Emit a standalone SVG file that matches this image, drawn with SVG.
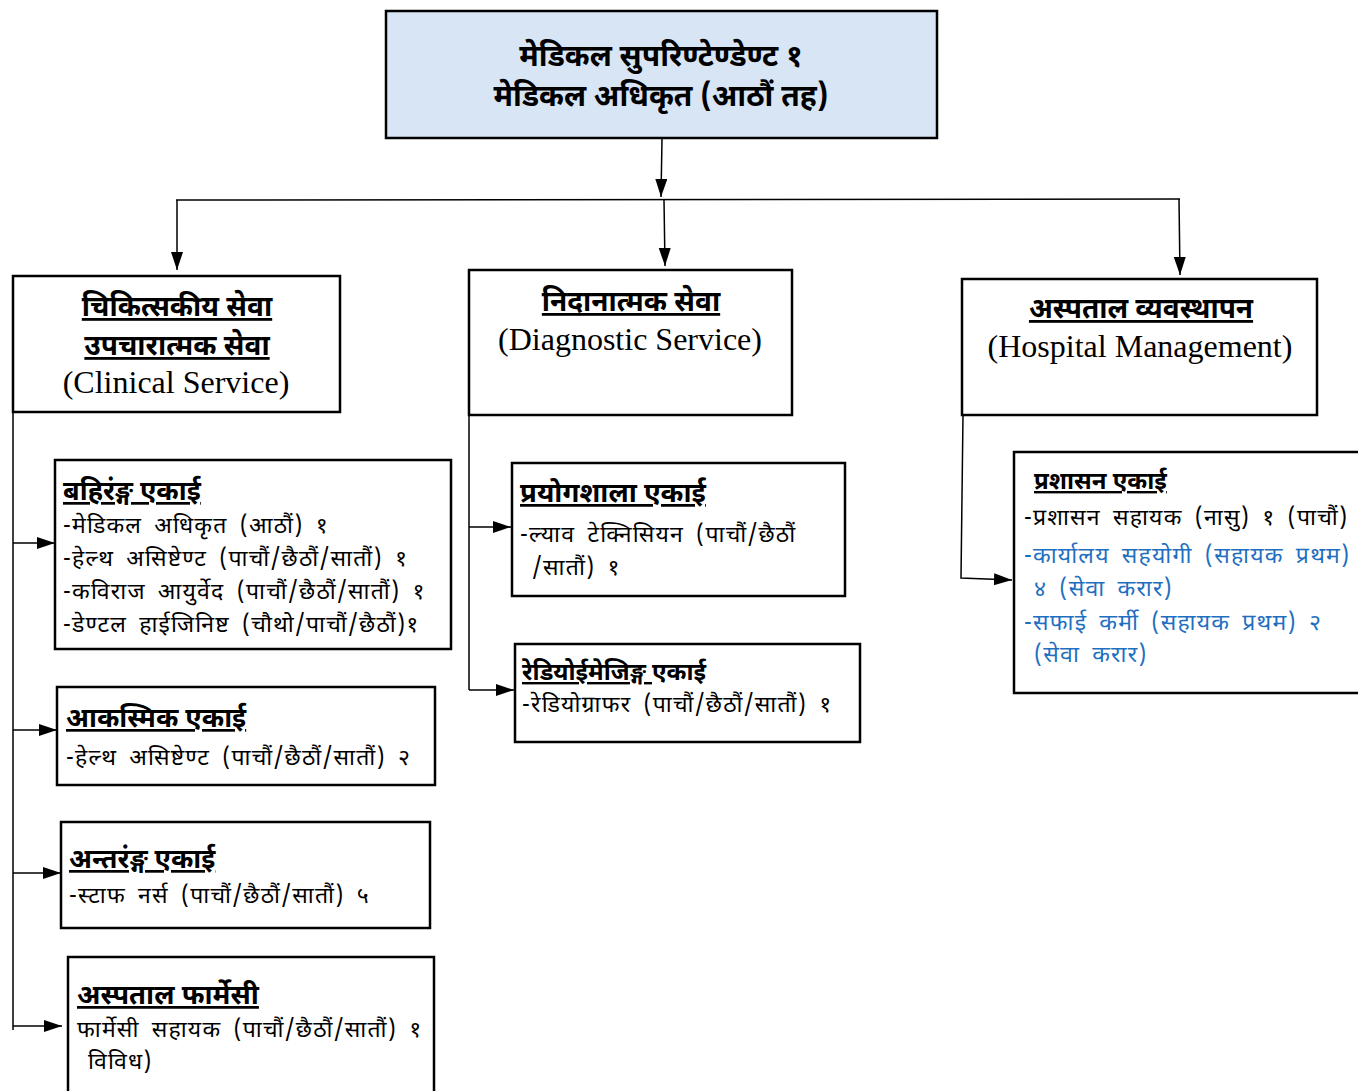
<svg xmlns="http://www.w3.org/2000/svg" width="1358" height="1091" viewBox="0 0 1358 1091">
<style>
.box{fill:#fff;stroke:#000;stroke-width:2.5}
.top{fill:#d7e5f5;stroke:#000;stroke-width:2.5}
.h{font-family:"Noto Sans Devanagari","Lohit Devanagari","Noto Sans",sans-serif;font-weight:bold;fill:#000}
.t{font-family:"Noto Sans Devanagari","Lohit Devanagari","Noto Sans",sans-serif;font-size:23px;letter-spacing:1.2px;word-spacing:5px;fill:#000}
.en{font-family:"Liberation Serif",serif;font-size:32px;fill:#000}
.u{text-decoration:underline}
.blue{fill:#1f6fc0}
.c{fill:none;stroke:#000;stroke-width:1.5}
</style>
<defs>
<marker id="av" markerWidth="20" markerHeight="20" refX="18" refY="6" orient="auto" markerUnits="userSpaceOnUse">
<path d="M0,0 L18,6 L0,12 z" fill="#000"/>
</marker>
</defs>

<g id="connectors">
<line class="c" x1="662" y1="139" x2="661" y2="197" marker-end="url(#av)"/>
<line class="c" x1="176" y1="200" x2="1180" y2="199"/>
<line class="c" x1="177" y1="200" x2="177" y2="270" marker-end="url(#av)"/>
<line class="c" x1="664" y1="200" x2="665" y2="266" marker-end="url(#av)"/>
<line class="c" x1="1179" y1="199" x2="1180" y2="275" marker-end="url(#av)"/>
<line class="c" x1="13" y1="412" x2="13" y2="1030"/>
<line class="c" x1="13" y1="543" x2="55" y2="543" marker-end="url(#av)"/>
<line class="c" x1="13" y1="730" x2="57" y2="730" marker-end="url(#av)"/>
<line class="c" x1="13" y1="873" x2="61" y2="873" marker-end="url(#av)"/>
<line class="c" x1="13" y1="1026" x2="62" y2="1026" marker-end="url(#av)"/>
<line class="c" x1="469" y1="415" x2="469" y2="690"/>
<line class="c" x1="469" y1="527" x2="511" y2="527" marker-end="url(#av)"/>
<line class="c" x1="469" y1="690" x2="514" y2="690" marker-end="url(#av)"/>
<polyline class="c" points="963,415 961,578 1012,580" marker-end="url(#av)"/>
</g>

<g id="n-top">
<rect class="top" x="386" y="11" width="551" height="127"/>
<text class="h" x="661" y="66" font-size="30" text-anchor="middle">मेडिकल सुपरिण्टेण्डेण्ट १</text>
<text class="h" x="661" y="106" font-size="30" text-anchor="middle">मेडिकल अधिकृत (आठौं तह)</text>
</g>

<g id="n-clinical">
<rect class="box" x="13" y="276" width="327" height="136"/>
<text class="h u" x="177" y="316" font-size="28" text-anchor="middle">चिकित्सकीय सेवा</text>
<text class="h u" x="177" y="355" font-size="28" text-anchor="middle">उपचारात्मक सेवा</text>
<text class="en" x="176" y="393" text-anchor="middle">(Clinical Service)</text>
</g>

<g id="n-diagnostic">
<rect class="box" x="469" y="270" width="323" height="145"/>
<text class="h u" x="631" y="311" font-size="28" text-anchor="middle">निदानात्मक सेवा</text>
<text class="en" x="630" y="350" text-anchor="middle">(Diagnostic Service)</text>
</g>

<g id="n-hospital">
<rect class="box" x="962" y="279" width="355" height="136"/>
<text class="h u" x="1141" y="318" font-size="28" text-anchor="middle">अस्पताल व्यवस्थापन</text>
<text class="en" x="1140" y="357" text-anchor="middle">(Hospital Management)</text>
</g>

<g id="n-opd">
<rect class="box" x="55" y="460" width="396" height="189"/>
<text class="h u" x="63" y="500" font-size="27">बहिरंङ्ग एकाई</text>
<text class="t" x="63" y="533">-मेडिकल अधिकृत (आठौं) १</text>
<text class="t" x="63" y="566">-हेल्थ असिष्टेण्ट (पाचौं/छैठौं/सातौं) १</text>
<text class="t" x="63" y="599">-कविराज आयुर्वेद (पाचौं/छैठौं/सातौं) १</text>
<text class="t" x="63" y="632">-डेण्टल हाईजिनिष्ट (चौथो/पाचौं/छैठौं)१</text>
</g>

<g id="n-emergency">
<rect class="box" x="57" y="687" width="378" height="98"/>
<text class="h u" x="66" y="727" font-size="27">आकस्मिक एकाई</text>
<text class="t" x="66" y="765">-हेल्थ असिष्टेण्ट (पाचौं/छैठौं/सातौं) २</text>
</g>

<g id="n-ipd">
<rect class="box" x="61" y="822" width="369" height="106"/>
<text class="h u" x="69" y="868" font-size="27">अन्तरंङ्ग एकाई</text>
<text class="t" x="69" y="903">-स्टाफ नर्स (पाचौं/छैठौं/सातौं) ५</text>
</g>

<g id="n-pharmacy">
<rect class="box" x="68" y="957" width="366" height="140"/>
<text class="h u" x="77" y="1004" font-size="27.5">अस्पताल फार्मेसी</text>
<text class="t" x="77" y="1037">फार्मेसी सहायक (पाचौं/छैठौं/सातौं) १</text>
<text class="t" x="88" y="1069">विविध)</text>
</g>

<g id="n-lab">
<rect class="box" x="512" y="463" width="333" height="133"/>
<text class="h u" x="520" y="502" font-size="27.5">प्रयोगशाला एकाई</text>
<text class="t" x="520" y="542">-ल्याव टेक्निसियन (पाचौं/छैठौं</text>
<text class="t" x="532" y="575">/सातौं) १</text>
</g>

<g id="n-radio">
<rect class="box" x="515" y="644" width="345" height="98"/>
<text class="h" x="522" y="680" font-size="24"><tspan class="u">रेडियोईमेजिङ्ग </tspan>एकाई</text>
<text class="t" x="522" y="712">-रेडियोग्राफर (पाचौं/छैठौं/सातौं) १</text>
</g>

<g id="n-admin">
<rect class="box" x="1014" y="452" width="350" height="241"/>
<text class="h u" x="1034" y="489" font-size="24">प्रशासन एकाई</text>
<text class="t" x="1024" y="525">-प्रशासन सहायक (नासु) १ (पाचौं)</text>
<text class="t blue" x="1024" y="563">-कार्यालय सहयोगी (सहायक प्रथम)</text>
<text class="t blue" x="1034" y="596">४ (सेवा करार)</text>
<text class="t blue" x="1024" y="630">-सफाई कर्मी (सहायक प्रथम) २</text>
<text class="t blue" x="1034" y="662">(सेवा करार)</text>
</g>
</svg>
